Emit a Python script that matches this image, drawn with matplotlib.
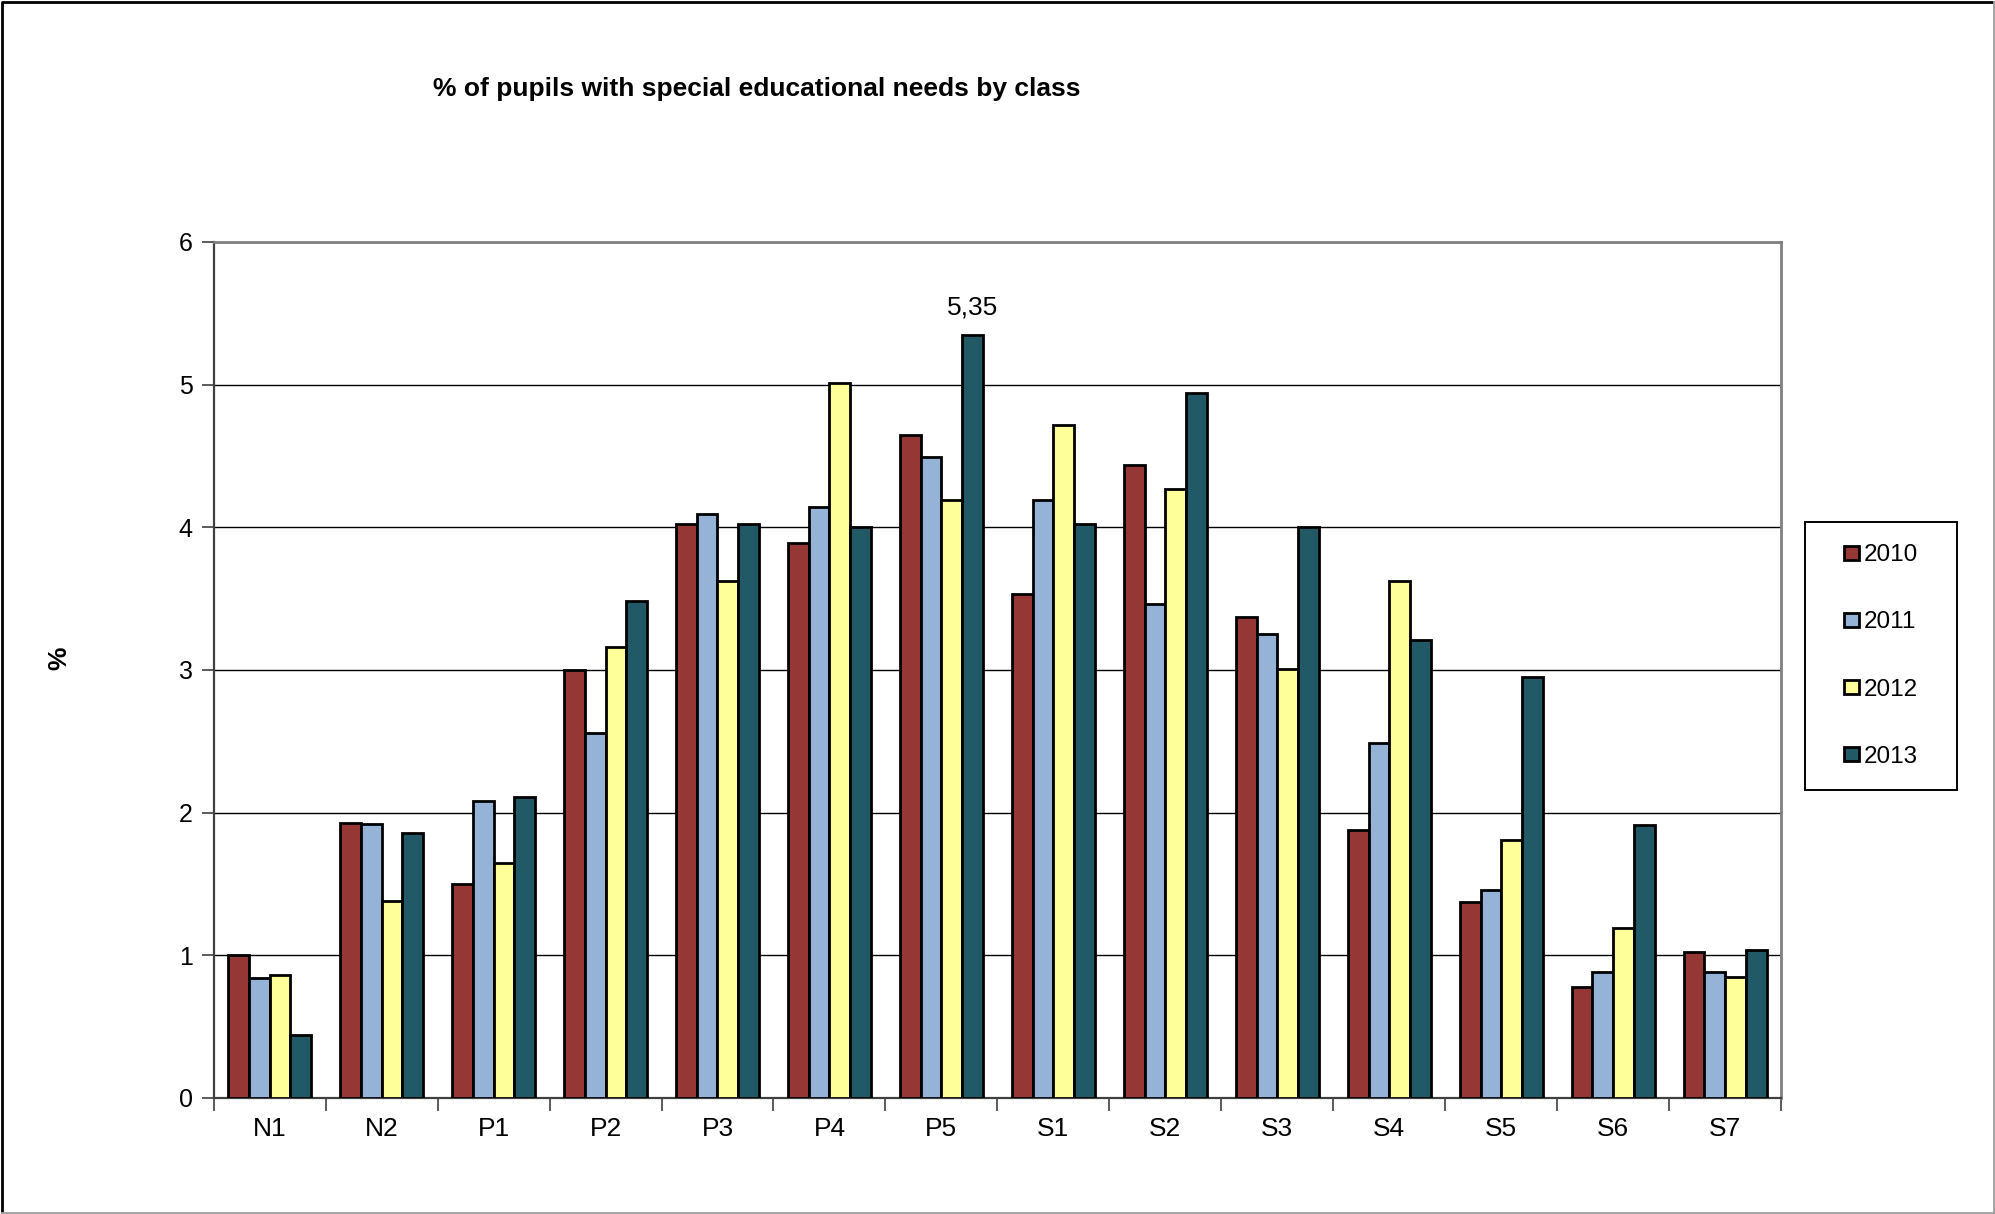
import numpy as np
import matplotlib
matplotlib.use("Agg")
import matplotlib.pyplot as plt
from matplotlib.patches import Rectangle
from matplotlib.lines import Line2D

plt.rcParams['font.family'] = ['Liberation Sans', 'DejaVu Sans']

classes = ["N1", "N2", "P1", "P2", "P3", "P4", "P5", "S1", "S2", "S3", "S4", "S5", "S6", "S7"]
years = ["2010", "2011", "2012", "2013"]

sen_2010 = [1.00, 1.93, 1.50, 3.00, 4.02, 3.89, 4.65, 3.53, 4.44, 3.37, 1.88, 1.37, 0.78, 1.02]
sen_2011 = [0.84, 1.92, 2.08, 2.56, 4.09, 4.14, 4.49, 4.19, 3.46, 3.25, 2.49, 1.46, 0.88, 0.88]
sen_2012 = [0.86, 1.38, 1.65, 3.16, 3.62, 5.01, 4.19, 4.72, 4.27, 3.01, 3.62, 1.81, 1.19, 0.85]
sen_2013 = [0.44, 1.86, 2.11, 3.48, 4.02, 4.00, 5.35, 4.02, 4.94, 4.00, 3.21, 2.95, 1.91, 1.04]

colors = ["#953735", "#95B3D7", "#FFFF99", "#215967"]

fig = plt.figure(figsize=(19.95, 12.14), dpi=100)
ax = fig.add_axes([0.1071, 0.0956, 0.7857, 0.7051])

x = np.arange(len(classes))
w = 0.185
series = [sen_2010, sen_2011, sen_2012, sen_2013]
bars = []
for k, vals in enumerate(series):
    b = ax.bar(x + (k - 1.5) * w, vals, w, color=colors[k], edgecolor="black",
               linewidth=2.0, label=years[k], zorder=3)
    bars.append(b)

# value label on the tallest bar
p5 = classes.index("P5")
ax.annotate(f"{sen_2013[p5]:.2f}".replace(".", ","),
            (x[p5] + 1.5 * w, sen_2013[p5]), xytext=(0, 11), textcoords="offset points",
            ha="center", va="bottom", fontsize=19)

ax.set_xlim(-0.5, len(classes) - 0.5)
ax.set_ylim(0, 6)
ax.set_yticks(range(0, 7))
ax.yaxis.grid(True, color="black", linewidth=1.0, zorder=0)
ax.set_axisbelow(True)

ax.set_xticks(x)
ax.set_xticklabels(classes, fontsize=19)
ax.set_xticks(np.arange(-0.5, len(classes)), minor=True)
ax.tick_params(axis="x", which="major", length=0, pad=14)
ax.tick_params(axis="x", which="minor", length=9, width=1.2, color="#404040")
ax.tick_params(axis="y", labelsize=18, length=9, width=1.2, color="#404040", pad=6)

for side in ["top", "right"]:
    ax.spines[side].set_color("#808080")
    ax.spines[side].set_linewidth(2)
ax.spines["left"].set_color("#404040")
ax.spines["left"].set_linewidth(1.6)
ax.spines["bottom"].set_color("#404040")
ax.spines["bottom"].set_linewidth(1.6)

fig.text(0.3795, 0.9267, "% of pupils with special educational needs by class",
         ha="center", va="center", fontsize=19, fontweight="bold")
fig.text(0.0296, 0.458, "%", rotation=90, ha="center", va="center", fontsize=19,
         fontweight="bold")

# legend box
fig.add_artist(Rectangle((0.9048, 0.3493), 0.0762, 0.2207, transform=fig.transFigure,
                         facecolor="white", edgecolor="black", linewidth=1.4))
fig.legend(handles=bars, labels=years, loc="center", bbox_to_anchor=(0.943, 0.4596),
           frameon=False, fontsize=17.5, handlelength=0.6, handleheight=0.5,
           handletextpad=0.2, labelspacing=1.86)

# outer chart border
fig.add_artist(Line2D([0.001, 0.001, 0.9995], [0.0, 0.998, 0.998], transform=fig.transFigure,
                      color="black", linewidth=2))
fig.add_artist(Line2D([0.9995, 0.9995, 0.001], [0.998, 0.001, 0.001], transform=fig.transFigure,
                      color="#A0A0A0", linewidth=2))

fig.savefig("out.png", dpi=100, facecolor="white")
